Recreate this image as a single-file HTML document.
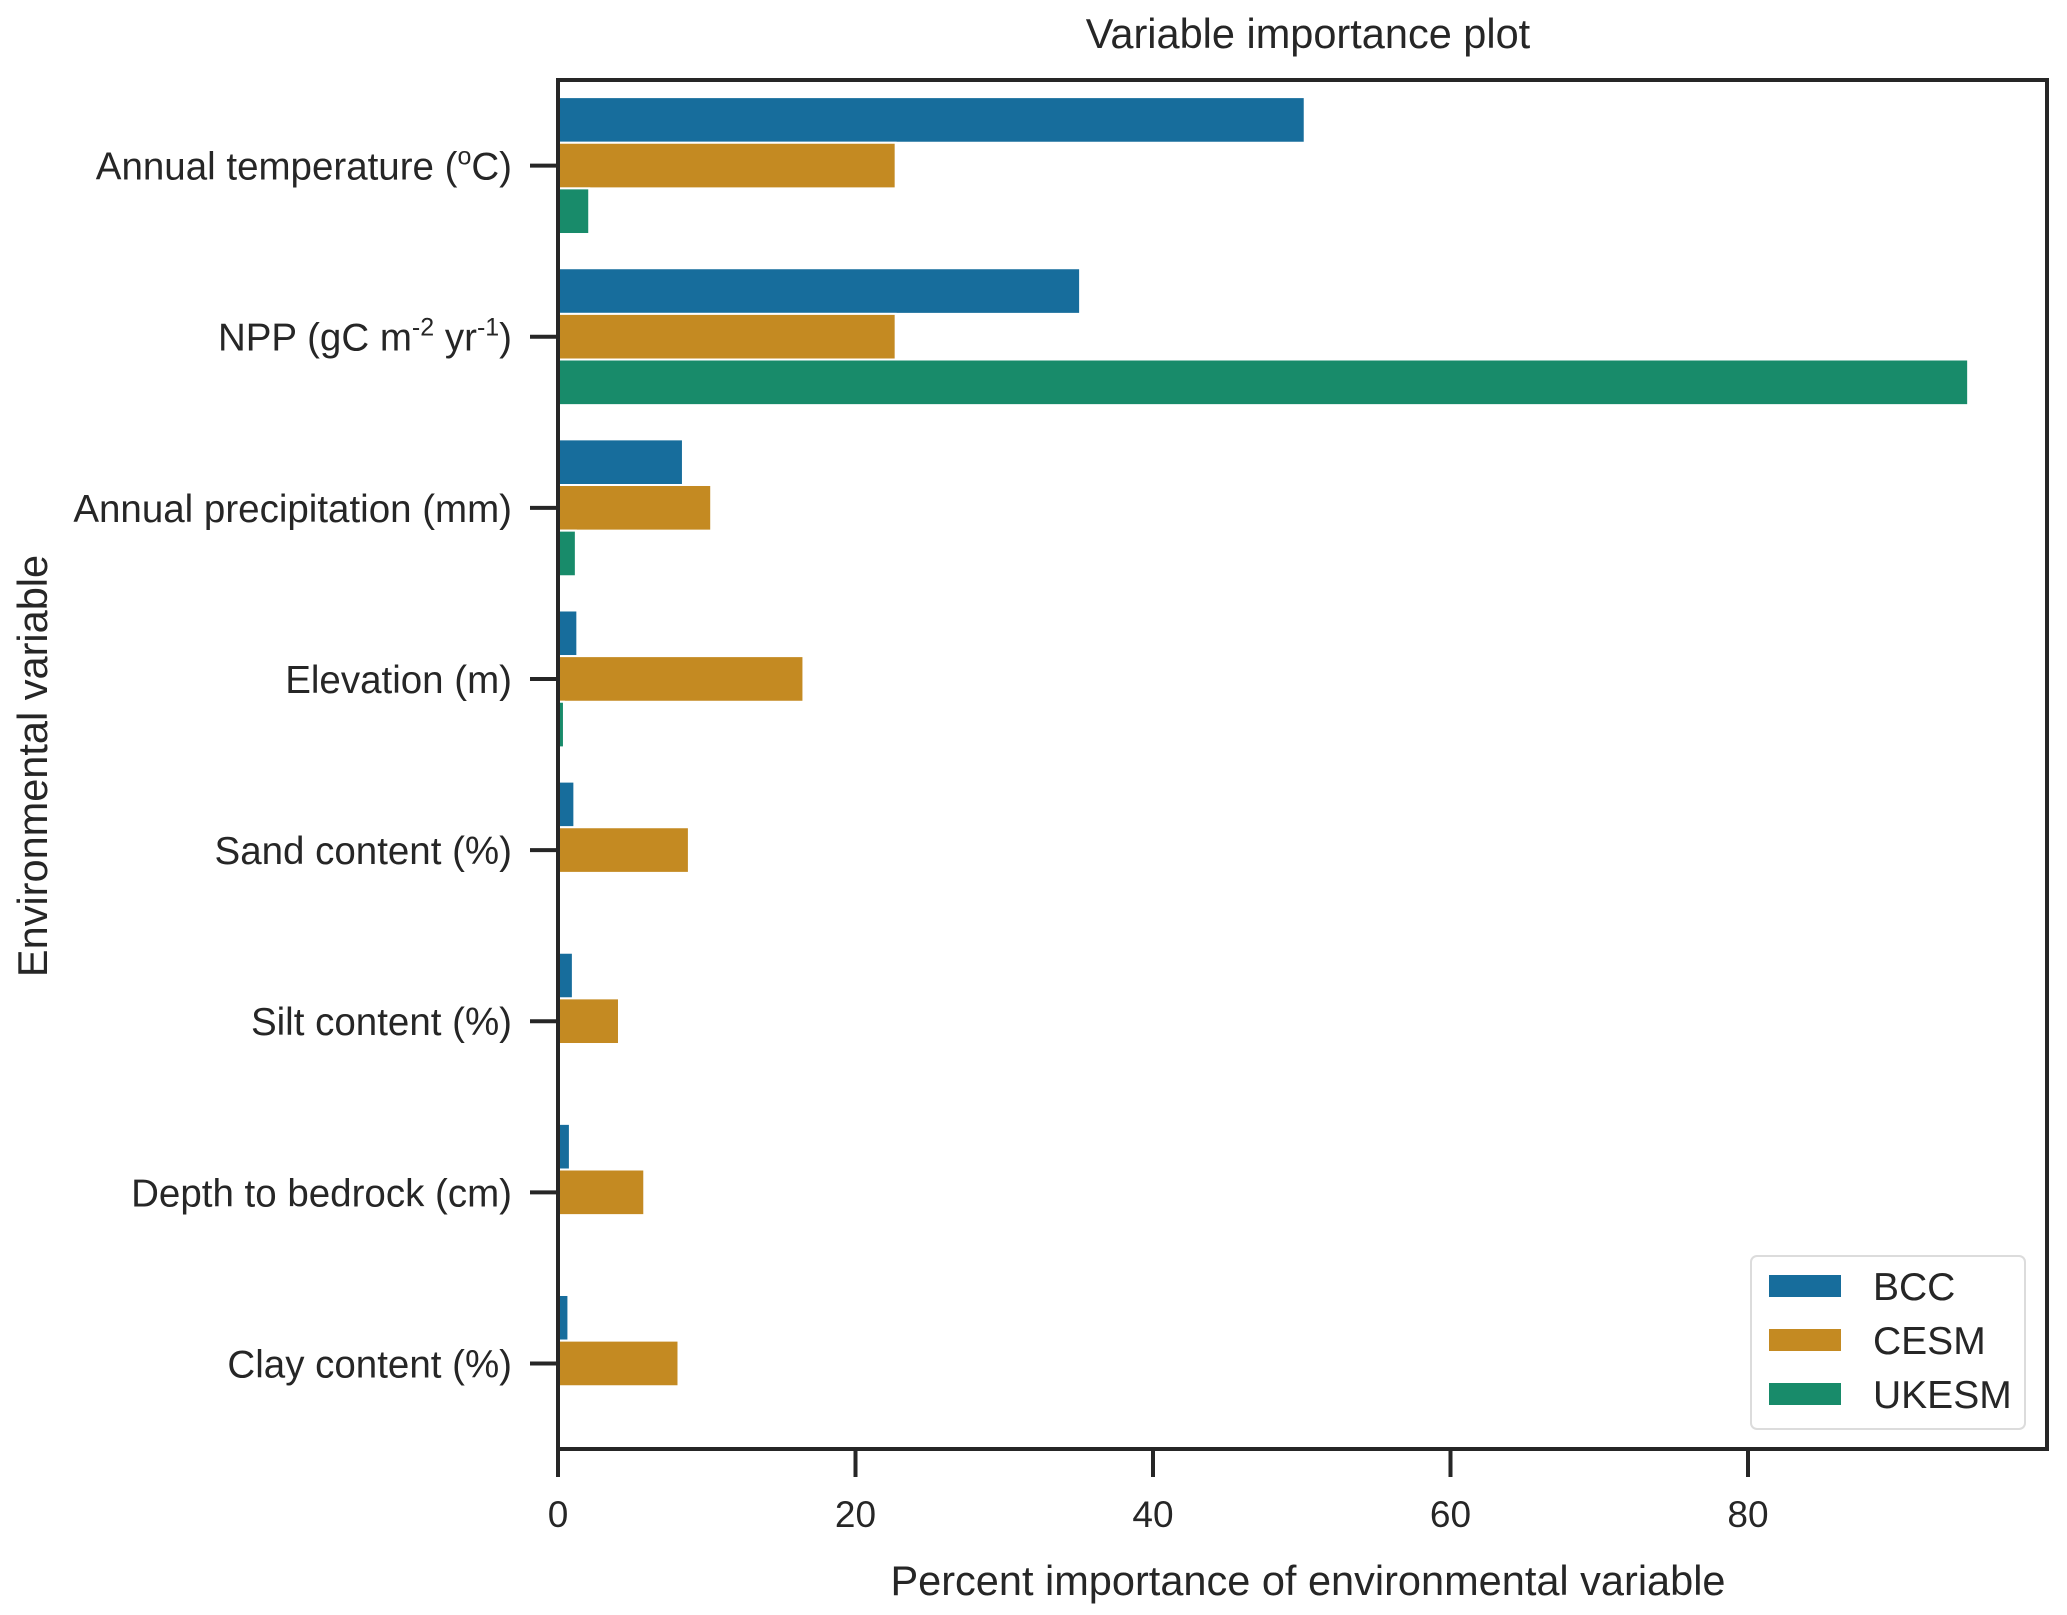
<!DOCTYPE html>
<html><head><meta charset="utf-8"><style>
body{margin:0;background:#fff;}
svg text{font-family:"Liberation Sans",Arial,sans-serif;fill:#262626;}
</style></head><body>
<svg id="chart" width="2067" height="1610" xmlns="http://www.w3.org/2000/svg">
<g id="bars"></g>
<g id="axes"></g>
</svg>
<script>
const categories = ["Annual temperature (°C)","NPP (gC m-2 yr-1)","Annual precipitation (mm)","Elevation (m)","Sand content (%)","Silt content (%)","Depth to bedrock (cm)","Clay content (%)"];
const seriesNames = ["BCC","CESM","UKESM"];
const bccValues = [50.2,35.1,8.4,1.3,1.1,1.0,0.8,0.7];
const cesmValues = [22.7,22.7,10.3,16.5,8.8,4.1,5.8,8.1];
const ukesmValues = [2.1,94.8,1.2,0.4,0,0,0,0];
const xTicks = [0,20,40,60,80];

const colors = ["#176d9c","#c48a22","#188b6a"];
const series = [bccValues,cesmValues,ukesmValues];
const L=558, R=2047, T=80, B=1449, xMax=100.1;
const x = v => L + v/xMax*(R-L);
const band = (B-T)/categories.length;
const y = i => T + band*(i+0.5);
const barH = band*0.8/3;
const NS="http://www.w3.org/2000/svg";
function mk(tag, attrs, parent){const e=document.createElementNS(NS,tag);for(const k in attrs)e.setAttribute(k,attrs[k]);parent.appendChild(e);return e;}
const gb=document.getElementById('bars'), ga=document.getElementById('axes'), svg=document.getElementById('chart');

categories.forEach((c,i)=>{
  series.forEach((s,j)=>{
    const r=mk('rect',{x:x(0),y:y(i)-1.5*barH+j*barH,width:Math.max(0,x(s[i])-x(0)),height:barH,fill:colors[j],stroke:'#fff','stroke-width':2},gb);
    
    
  });
  const t=mk('line',{x1:L-28,x2:L,y1:y(i),y2:y(i),stroke:'#262626','stroke-width':4},ga);
  
  
  const tx=mk('text',{x:L-46,y:y(i)+14,'text-anchor':'end','font-size':38.5},ga);
  
  
  if(c.startsWith("NPP")){
    tx.innerHTML='NPP (gC m<tspan dy="-15" font-size="25">-2</tspan><tspan dy="15"> yr</tspan><tspan dy="-15" font-size="25">-1</tspan><tspan dy="15">)</tspan>';
  } else if(c.startsWith("Annual temperature")){
    tx.innerHTML='Annual temperature (<tspan dy="-15" font-size="25">o</tspan><tspan dy="15">C)</tspan>';
  } else tx.textContent=c;
});
xTicks.forEach(v=>{
  const t=mk('line',{x1:x(v),x2:x(v),y1:B,y2:B+28,stroke:'#262626','stroke-width':4},ga);
  
  
  const tx=mk('text',{x:x(v),y:B+78,'text-anchor':'middle','font-size':37},ga);
  
  
  tx.textContent=v;
});
const fr=mk('rect',{x:L,y:T,width:R-L,height:B-T,fill:'none',stroke:'#262626','stroke-width':4},ga);


const title=mk('text',{x:1308,y:48,'text-anchor':'middle','font-size':41.5},ga);


title.textContent='Variable importance plot';
const xl=mk('text',{x:1308,y:1595,'text-anchor':'middle','font-size':41.5},ga);


xl.textContent='Percent importance of environmental variable';
const yl=mk('text',{x:0,y:0,'text-anchor':'middle','font-size':41.5,transform:'translate(47,766) rotate(-90)'},ga);


yl.textContent='Environmental variable';
const lg=mk('g',{},svg);


mk('rect',{x:1751,y:1256,width:274,height:173,rx:6,fill:'#fff',stroke:'#dcdcdc','stroke-width':2},lg);
seriesNames.forEach((n,j)=>{
  const cy=1286+j*54;
  const p=mk('rect',{x:1769,y:cy-11,width:72,height:22,fill:colors[j]},lg);
  
  
  const t=mk('text',{x:1873,y:cy+14,'font-size':39},lg);
  
  
  t.textContent=n;
});
</script>
</body></html>
